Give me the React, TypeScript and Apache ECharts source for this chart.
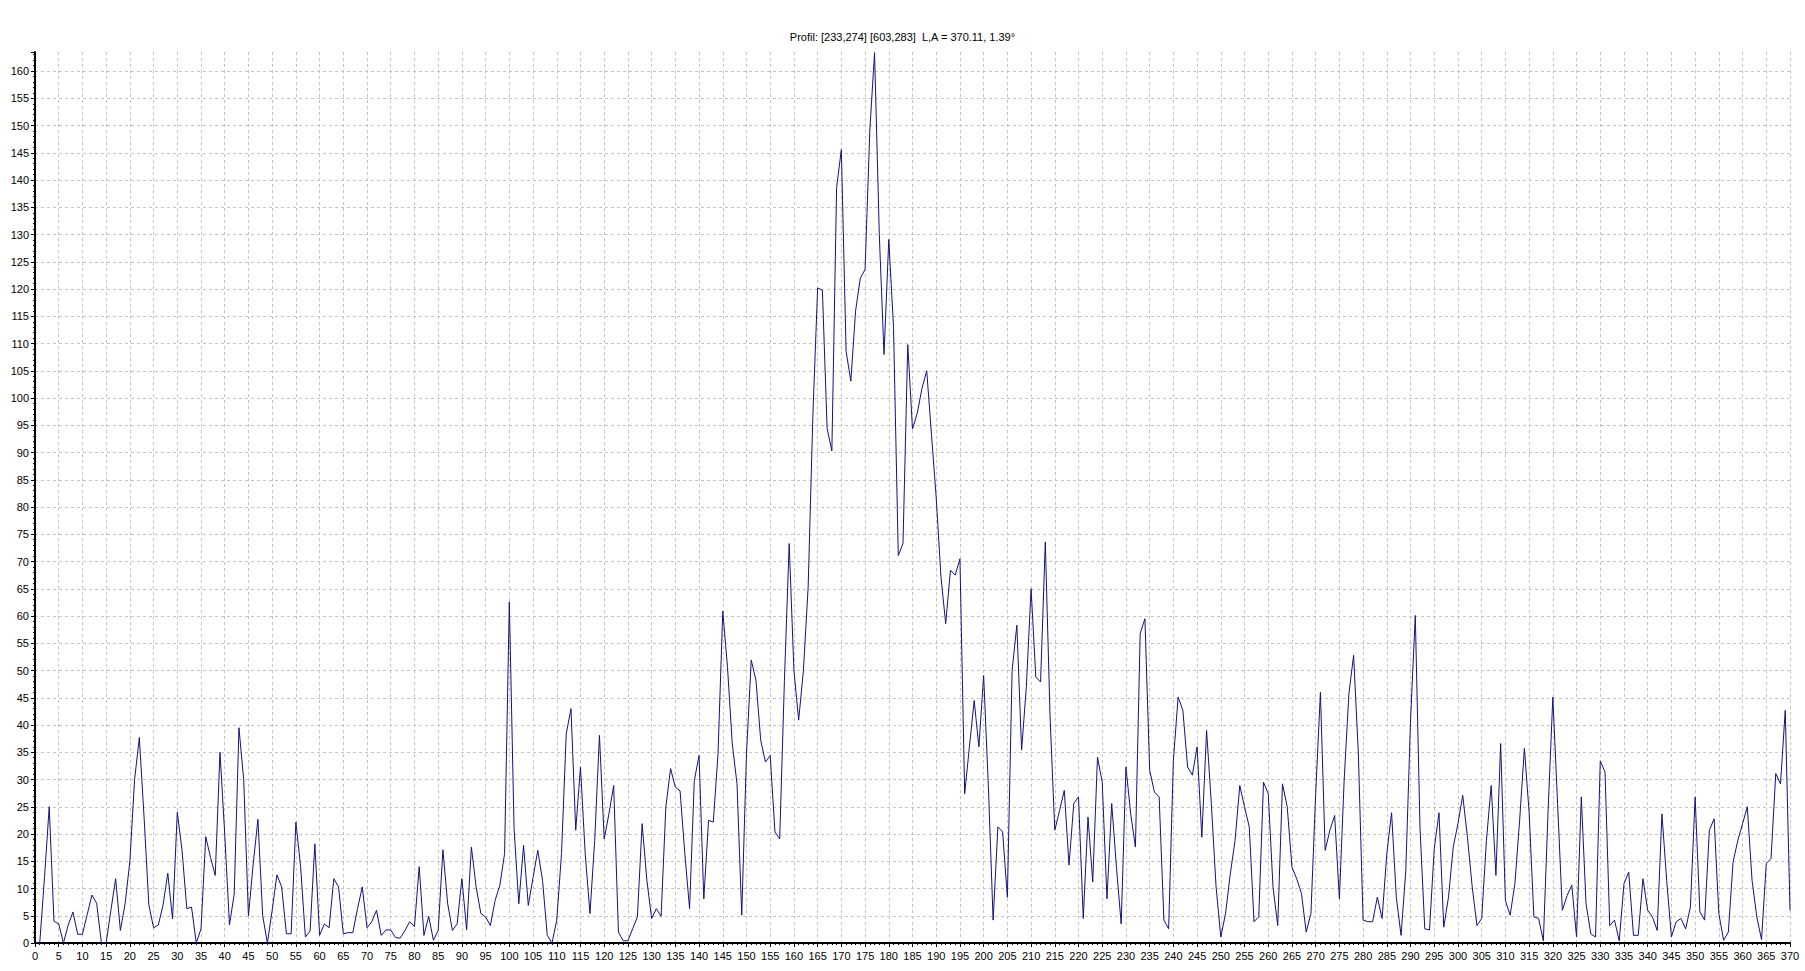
import React, { useEffect, useRef } from "react";
import * as echarts from "echarts";

const TITLE = "Profil: [233,274] [603,283]  L,A = 370.11, 1.39°";

// profile values, sample 0..99
const profileA = [
  0, 0, 12, 25, 4, 3.5, 0, 3.3, 5.7, 1.6,
  1.6, 5.2, 8.8, 7.3, 0, 0, 6, 11.8, 2.3, 7.2,
  15, 30, 37.7, 23, 7, 2.8, 3.3, 7, 12.8, 4.4,
  24, 17, 6.3, 6.6, 0, 2.6, 19.5, 15.7, 12.4, 35,
  20, 3.3, 9, 39.5, 30, 5, 14.5, 22.7, 5, 0,
  6, 12.5, 10.3, 1.7, 1.7, 22.2, 14, 1.1, 2.2, 18.2,
  1.4, 3.5, 2.8, 11.8, 10.3, 1.7, 1.9, 1.9, 6.3, 10.3,
  2.8, 3.9, 6, 1.4, 2.4, 2.4, 1, 0.9, 2.3, 3.9,
  3, 14, 1.4, 4.9, 0.5, 2.3, 17.1, 7.2, 2.3, 3.5,
  11.8, 2.4, 17.6, 10.3, 5.4, 4.8, 3.2, 7.8, 10.6, 16.4,
];
// sample 100..199
const profileB = [
  62.6, 21, 7.2, 17.9, 6.9, 12, 17, 11.5, 1.4, 0,
  4.2, 16.4, 38.4, 43, 20.7, 32.3, 16.4, 5.4, 18.8, 38.1,
  19.1, 23.7, 28.9, 2, 0.4, 0.4, 2.6, 4.8, 21.9, 11.5,
  4.5, 6.3, 4.9, 25, 32, 28.6, 27.9, 16.4, 6.3, 29.8,
  34.4, 8.1, 22.5, 22.2, 34.7, 60.9, 50.6, 36.6, 29.2, 5.1,
  34.7, 51.9, 48.2, 37.2, 33.2, 34.4, 20.4, 19.1, 48.2, 73.3,
  50, 40.9, 50, 65.3, 97, 120.2, 119.8, 94.4, 90.3, 138.6,
  145.6, 108.6, 103.1, 116, 122, 123.6, 149, 163.4, 130, 108,
  129.1, 113, 71.1, 73.3, 109.8, 94.3, 97.2, 101.8, 105, 93.3,
  81.7, 67.2, 58.6, 68.4, 67.5, 70.5, 27.4, 36, 44.5, 36,
];
// sample 200..299
const profileC = [
  49.1, 28.6, 4.2, 21.3, 20.4, 8.4, 50, 58.3, 35.4, 47,
  65, 48.8, 47.9, 73.6, 41.5, 20.7, 24.3, 28, 14.3, 25.6,
  26.8, 4.5, 23.1, 11.2, 34.1, 29.5, 8.1, 25.6, 13.9, 3.5,
  32.3, 23.7, 17.6, 56.8, 59.5, 31.7, 27.7, 26.8, 4.2, 2.6,
  33.5, 45.1, 42.7, 32.3, 30.8, 36, 19.4, 39, 25.6, 10.3,
  1.1, 5.4, 12.7, 18.8, 28.9, 25, 21.3, 3.9, 4.8, 29.5,
  27.4, 10.3, 3.2, 29.2, 25, 13.9, 11.8, 9.1, 2, 5.4,
  27.4, 46, 17, 20.7, 23.4, 8.1, 29.8, 45.7, 52.8, 34.7,
  4.2, 3.9, 3.9, 8.4, 4.5, 16.4, 23.9, 8.4, 1.4, 13.3,
  40.9, 60.1, 21, 2.6, 2.4, 17.3, 23.9, 2.9, 8.4, 17.6,
];
// sample 300..370
const profileD = [
  21.9, 27.1, 19.4, 10.3, 3.2, 4.5, 18.8, 28.9, 12.4, 36.6,
  7.8, 5.1, 10.9, 22.5, 35.7, 24, 4.8, 4.5, 0.4, 24.3,
  45.1, 25.6, 6, 8.7, 10.6, 1.1, 26.8, 7.2, 1.7, 1.1,
  33.4, 31.4, 3.2, 4.2, 0.4, 10.9, 13, 1.4, 1.4, 11.8,
  6, 4.8, 2.3, 23.7, 11.5, 1.1, 3.9, 4.5, 2.6, 6.6,
  26.8, 5.7, 4.2, 20.7, 22.8, 5.4, 0.5, 2, 14.9, 18.8,
  21.9, 25, 11.5, 4.8, 0.6, 14.6, 15.5, 31.1, 29.2, 42.7,
  6,
];

const X_MIN = 0;
const X_MAX = 370;
const X_STEP = 5;
const Y_MIN = 0;
const Y_MAX = 163.5;
const Y_STEP = 5;

const FONT = "'Liberation Sans', Arial, sans-serif";

export default function App() {
  const ref = useRef<HTMLDivElement>(null);

  useEffect(() => {
    if (!ref.current) return;
    const chart = echarts.init(ref.current, undefined, { renderer: "svg" });
    const values = [...profileA, ...profileB, ...profileC, ...profileD];
    const points = values.map((v, i) => [i, v]);
    const gridLine = {
      show: true,
      lineStyle: { color: "#c4c4c4", width: 1, type: [3, 3] as number[] },
    };
    chart.setOption({
      animation: false,
      backgroundColor: "#ffffff",
      title: {
        text: TITLE,
        left: "center",
        top: 26,
        textStyle: { fontFamily: FONT, fontSize: 11, fontWeight: "normal", color: "#000" },
      },
      grid: { left: 35, right: 15, top: 52, bottom: 28, containLabel: false },
      xAxis: {
        type: "value",
        min: X_MIN,
        max: X_MAX,
        interval: X_STEP,
        axisLine: { show: true, onZero: false, lineStyle: { color: "#000", width: 2 } },
        axisTick: { show: true, length: 4, lineStyle: { color: "#000", width: 1 } },
        minorTick: { show: true, splitNumber: 5, length: 2, lineStyle: { color: "#000", width: 1 } },
        axisLabel: { fontFamily: FONT, fontSize: 11, color: "#000", margin: 7 },
        splitLine: gridLine,
      },
      yAxis: {
        type: "value",
        min: Y_MIN,
        max: Y_MAX,
        interval: Y_STEP,
        axisLine: { show: true, lineStyle: { color: "#000", width: 2 } },
        axisTick: { show: true, length: 4, lineStyle: { color: "#000", width: 1 } },
        minorTick: { show: true, splitNumber: 5, length: 2, lineStyle: { color: "#000", width: 1 } },
        axisLabel: {
          fontFamily: FONT,
          fontSize: 11,
          color: "#000",
          margin: 6,
          showMaxLabel: false,
          formatter: (v: number) => (v % 5 === 0 ? String(v) : ""),
        },
        splitLine: { ...gridLine, showMaxLine: false },
      },
      series: [
        {
          type: "line",
          data: points,
          showSymbol: false,
          symbol: "none",
          smooth: false,
          lineStyle: { color: "#12127e", width: 1 },
          silent: true,
        },
      ],
    });
    return () => chart.dispose();
  }, []);

  return (
    <div
      ref={ref}
      style={{ position: "absolute", left: 0, top: 0, width: 1805, height: 971, background: "#fff" }}
    />
  );
}
